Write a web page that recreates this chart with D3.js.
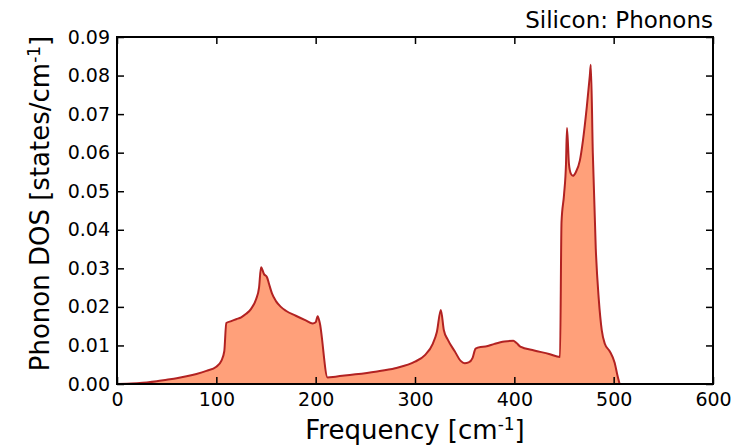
<!DOCTYPE html>
<html>
<head>
<meta charset="utf-8">
<script src="https://cdn.jsdelivr.net/npm/d3@7"></script>
<style>
  body { margin: 0; background: #fff; }
  text { font-family: "DejaVu Sans", sans-serif; fill: #000; }
</style>
</head>
<body>
<script>
// frequency in cm^-1, DOS in states/cm^-1
const freq = [0, 10, 20, 30, 40, 50, 60, 70, 80, 90, 100, 105, 108, 110,
  115, 120, 125, 130, 135, 140, 143, 145, 148, 151, 153, 156, 160, 165, 170, 180, 190, 197, 200, 202, 204, 212,
  220, 240, 260, 280, 300, 310, 318, 322, 326, 329, 333, 340, 346, 350, 354, 358, 361, 366, 371, 380, 390, 399, 402, 406,
  420, 435, 446, 447.5, 450, 452, 453, 455, 457, 459, 462, 466, 469, 473, 476, 477, 479, 482, 485, 488, 491, 496, 501, 504, 506];
const dos = [0, 0.00005, 0.0002, 0.0004, 0.0007, 0.0011, 0.0015, 0.002, 0.0026, 0.0034, 0.0045, 0.006, 0.0085, 0.0158,
  0.0163, 0.0168, 0.0173, 0.0182, 0.0195, 0.022, 0.025, 0.0303, 0.0285, 0.0277, 0.026, 0.0235, 0.0215, 0.02, 0.019, 0.0177, 0.0165, 0.0157, 0.016, 0.0176, 0.016, 0.0017,
  0.0019, 0.0025, 0.0032, 0.0041, 0.0058, 0.0075, 0.0105, 0.0135, 0.0192, 0.014, 0.0115, 0.0085, 0.006, 0.0054, 0.0056, 0.0068, 0.0092, 0.0096, 0.0097, 0.0104, 0.011, 0.0112, 0.0107, 0.0097,
  0.0087, 0.0078, 0.007, 0.042, 0.049, 0.057, 0.0664, 0.057, 0.0545, 0.054, 0.055, 0.058, 0.063, 0.072, 0.08, 0.0828, 0.06, 0.035, 0.022, 0.014, 0.0105, 0.0085, 0.0055, 0.002, 0];
const xTicks = [0, 100, 200, 300, 400, 500, 600];
const yTicks = [0, 0.01, 0.02, 0.03, 0.04, 0.05, 0.06, 0.07, 0.08, 0.09];

const data = freq.map((f, i) => ({f: f, d: dos[i]}));

const m = {top: 37, bottom: 64, left: 117, right: 27};
const W = 740, H = 448;
const w = W - m.left - m.right;
const h = H - m.top - m.bottom;

const svg = d3.select("body").append("svg")
    .attr("width", W)
    .attr("height", H);

const g = svg.append("g")
    .attr("transform", `translate(${m.left}, ${m.top})`);

const x = d3.scaleLinear().domain([0, 600]).range([0, w]);
const y = d3.scaleLinear().domain([0, 0.09]).range([h, 0]);

const area = d3.area()
    .x(d => x(d.f))
    .y0(y(0))
    .y1(d => y(d.d))
    .curve(d3.curveMonotoneX);

const line = d3.line()
    .x(d => x(d.f))
    .y(d => y(d.d))
    .curve(d3.curveMonotoneX);

g.append("path")
    .datum(data)
    .attr("d", area)
    .attr("fill", "#ffa07a");

g.append("path")
    .datum(data)
    .attr("d", line)
    .attr("fill", "none")
    .attr("stroke", "#b22222")
    .attr("stroke-width", 2);

// ticks point inwards on all four sides, labels only bottom/left
const tl = 7;
g.append("g")
    .attr("transform", `translate(0, ${h})`)
    .call(d3.axisBottom(x).tickValues(xTicks).tickSize(-tl).tickPadding(9).tickFormat(d3.format("d")));
g.append("g")
    .call(d3.axisTop(x).tickValues(xTicks).tickSize(-tl).tickFormat(""));
g.append("g")
    .call(d3.axisLeft(y).tickValues(yTicks).tickSize(-tl).tickPadding(7).tickFormat(d3.format(".2f")));
g.append("g")
    .attr("transform", `translate(${w}, 0)`)
    .call(d3.axisRight(y).tickValues(yTicks).tickSize(-tl).tickFormat(""));

g.selectAll(".domain").remove();
g.selectAll(".tick line").attr("stroke", "#000").attr("stroke-width", 1.5);
g.selectAll(".tick text").style("font-size", "19px").style("font-family", "DejaVu Sans");

g.append("rect")
    .attr("width", w)
    .attr("height", h)
    .attr("fill", "none")
    .attr("stroke", "#000")
    .attr("stroke-width", 2);

// labels
const xl = svg.append("text")
    .attr("x", m.left + w / 2)
    .attr("y", 439)
    .attr("text-anchor", "middle")
    .style("font-size", "26px");
xl.append("tspan").text("Frequency [cm");
xl.append("tspan").text("-1").style("font-size", "17px").attr("dy", -9);
xl.append("tspan").text("]").attr("dy", 9);

const yl = svg.append("text")
    .attr("transform", `translate(49, ${m.top + h / 2 - 7}) rotate(-90)`)
    .attr("text-anchor", "middle")
    .style("font-size", "26px");
yl.append("tspan").text("Phonon DOS [states/cm");
yl.append("tspan").text("-1").style("font-size", "17px").attr("dy", -9);
yl.append("tspan").text("]").attr("dy", 9);

svg.append("text")
    .attr("x", m.left + w)
    .attr("y", 28)
    .attr("text-anchor", "end")
    .style("font-size", "23px")
    .text("Silicon: Phonons");
</script>
</body>
</html>
